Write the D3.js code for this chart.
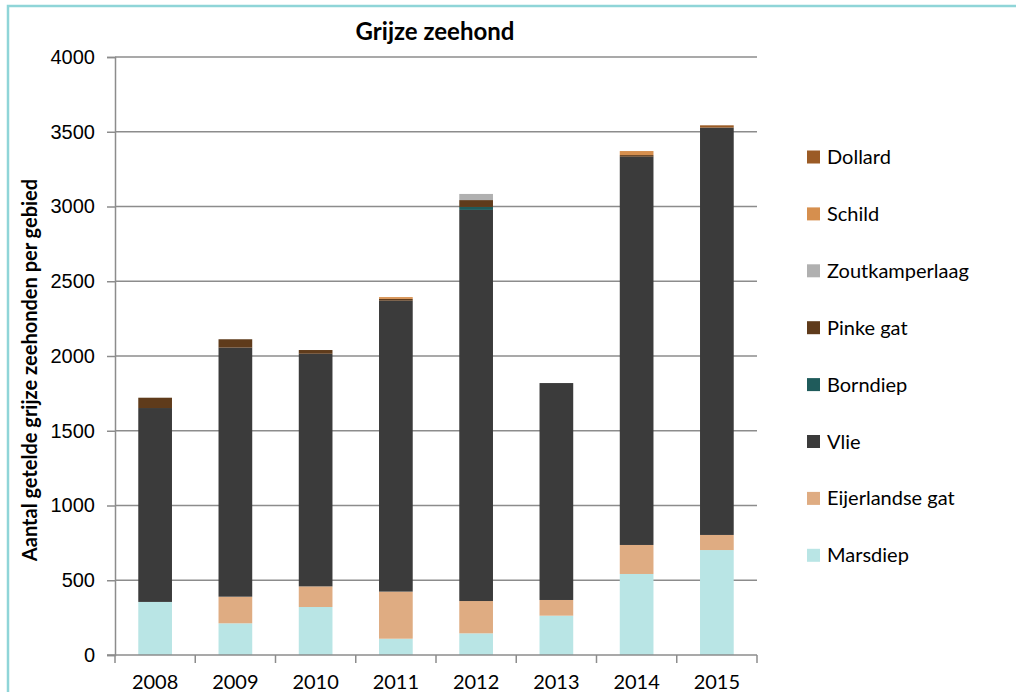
<!DOCTYPE html>
<html lang="nl">
<head>
<meta charset="UTF-8">
<title>Grijze zeehond</title>
<script src="https://cdn.jsdelivr.net/npm/d3@7"></script>
<style>
    body { margin: 0; background: #fff; }
    svg { display: block; font-family: Lato, "Open Sans", sans-serif; }
    .tick text { font-size: 20px; fill: #000; }
</style>
</head>
<body>
<div id="chart"></div>
<script>
// counted grey seals per area
const years = ['2008', '2009', '2010', '2011', '2012', '2013', '2014', '2015'];
const marsdiep       = [355, 212, 321, 109, 145, 263, 542, 702];
const eijerlandseGat = [0, 178, 138, 315, 216, 105, 194, 101];
const vlie           = [1297, 1666, 1556, 1946, 2616, 1451, 2597, 2725];
const borndiep       = [0, 0, 0, 0, 20, 0, 0, 0];
const pinkeGat       = [69, 56, 25, 12, 46, 0, 11, 0];
const zoutkamperlaag = [0, 0, 0, 0, 41, 0, 0, 0];
const schild         = [0, 0, 0, 12, 0, 0, 27, 0];
const dollard        = [0, 0, 0, 0, 0, 0, 0, 15];
const yTicks = [0, 500, 1000, 1500, 2000, 2500, 3000, 3500, 4000];

// stacking order bottom -> top
const series = [
    { name: 'Marsdiep', values: marsdiep, color: '#b9e5e5' },
    { name: 'Eijerlandse gat', values: eijerlandseGat, color: '#dfac82' },
    { name: 'Vlie', values: vlie, color: '#3b3b3b' },
    { name: 'Borndiep', values: borndiep, color: '#1f5b5b' },
    { name: 'Pinke gat', values: pinkeGat, color: '#5f3b1b' },
    { name: 'Zoutkamperlaag', values: zoutkamperlaag, color: '#b0b0b0' },
    { name: 'Schild', values: schild, color: '#d68f4e' },
    { name: 'Dollard', values: dollard, color: '#9b5b25' }
];

const width = 1016, height = 692;
const margin = { top: 57, right: 259, bottom: 37, left: 115 };

const svg = d3.select('#chart').append('svg')
    .attr('width', width)
    .attr('height', height);

// outer frame
svg.append('rect')
    .attr('x', 8).attr('y', 6)
    .attr('width', width + 20).attr('height', height + 20)
    .attr('fill', 'none')
    .attr('stroke', '#8fd5d8')
    .attr('stroke-width', 2.5);

const x = d3.scaleBand()
    .domain(years)
    .range([margin.left, width - margin.right])
    .paddingInner(0.58)
    .paddingOuter(0.29);

const y = d3.scaleLinear()
    .domain([0, 4000])
    .range([height - margin.bottom, margin.top]);

const table = years.map((yr, i) => {
    const row = { year: yr };
    series.forEach(s => { row[s.name] = s.values[i]; });
    return row;
});
const stacked = d3.stack().keys(series.map(s => s.name))(table);

// gridlines
svg.append('g')
    .selectAll('line')
    .data(yTicks.filter(t => t > 0))
    .join('line')
    .attr('x1', margin.left).attr('x2', width - margin.right)
    .attr('y1', d => y(d)).attr('y2', d => y(d))
    .attr('stroke', '#8c8c8c')
    .attr('stroke-width', 1.5);

// bars
svg.append('g')
    .selectAll('g')
    .data(stacked)
    .join('g')
    .attr('fill', (d, i) => series[i].color)
    .selectAll('rect')
    .data(d => d)
    .join('rect')
    .attr('x', d => x(d.data.year))
    .attr('width', x.bandwidth())
    .attr('y', d => y(d[1]))
    .attr('height', d => y(d[0]) - y(d[1]));

// y axis
const yAxis = svg.append('g')
    .attr('transform', `translate(${margin.left},0)`)
    .call(d3.axisLeft(y).tickValues(yTicks).tickSize(8).tickPadding(12).tickFormat(d3.format('d')));
yAxis.selectAll('line, path').attr('stroke', '#8c8c8c').attr('stroke-width', 1.5);

// x axis with ticks between categories
const step = x.step();
const bounds = years.map(yr => x(yr) + x.bandwidth() / 2 - step / 2)
    .concat([x(years[years.length - 1]) + x.bandwidth() / 2 + step / 2]);
const xg = svg.append('g');
xg.append('line')
    .attr('x1', margin.left - 8).attr('x2', width - margin.right)
    .attr('y1', y(0)).attr('y2', y(0))
    .attr('stroke', '#8c8c8c').attr('stroke-width', 1.5);
xg.selectAll('line.tk')
    .data(bounds)
    .join('line')
    .attr('class', 'tk')
    .attr('x1', d => d).attr('x2', d => d)
    .attr('y1', y(0)).attr('y2', y(0) + 8)
    .attr('stroke', '#8c8c8c').attr('stroke-width', 1.5);
xg.selectAll('text')
    .data(years)
    .join('text')
    .attr('x', d => x(d) + x.bandwidth() / 2)
    .attr('y', y(0) + 34)
    .attr('text-anchor', 'middle')
    .attr('font-size', 20)
    .text(d => d);

// title
svg.append('text')
    .attr('x', 435).attr('y', 40)
    .attr('text-anchor', 'middle')
    .attr('font-size', 24)
    .attr('font-weight', 'bold')
    .text('Grijze zeehond');

// y axis title
svg.append('text')
    .attr('transform', `translate(37,${(y(0) + y(4000)) / 2 + 14}) rotate(-90)`)
    .attr('text-anchor', 'middle')
    .attr('font-size', 20)
    .attr('font-weight', 'bold')
    .text('Aantal getelde grijze zeehonden per gebied');

// legend (top item is the last series)
const legend = svg.append('g')
    .selectAll('g')
    .data(series.slice().reverse())
    .join('g')
    .attr('transform', (d, i) => `translate(807,${157 + i * 56.9})`);
legend.append('rect')
    .attr('x', 0).attr('y', -6.5)
    .attr('width', 13).attr('height', 13)
    .attr('fill', d => d.color);
legend.append('text')
    .attr('x', 20).attr('y', 7)
    .attr('font-size', 20)
    .text(d => d.name);
</script>
</body>
</html>
